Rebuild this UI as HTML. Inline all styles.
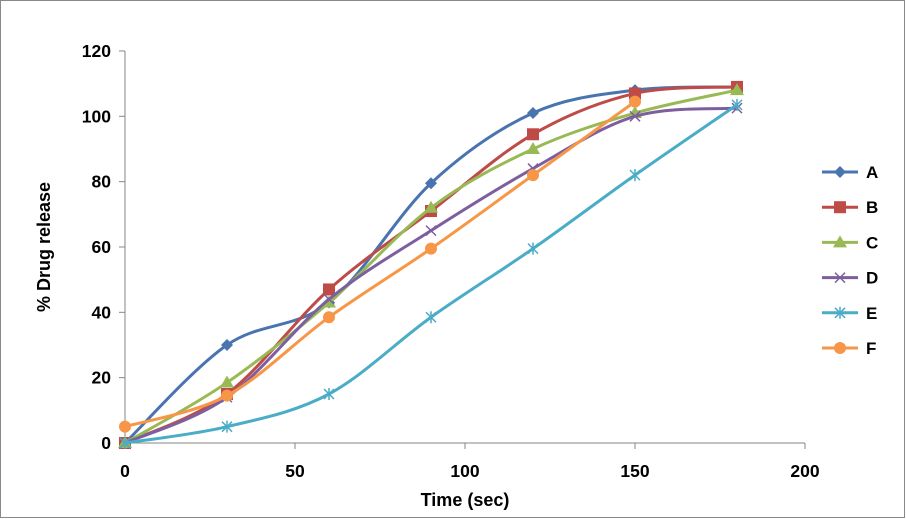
<!DOCTYPE html>
<html><head><meta charset="utf-8"><style>
body{margin:0;background:#fff;}
svg{display:block;font-family:"Liberation Sans",Arial,sans-serif;font-weight:bold;}
</style></head><body>
<svg width="906" height="519">
<rect x="0.5" y="0.5" width="904" height="517" fill="#fff" stroke="#888"/>
<g id="axes"></g><g id="series"></g><g id="legend"></g>
<text x="465" y="506" font-size="18" text-anchor="middle">Time (sec)</text>
<text transform="translate(50,247) rotate(-90)" font-size="18" text-anchor="middle">% Drug release</text>
</svg>
<script>
const xVals=[0,30,60,90,120,150,180];
const seriesA=[0,30,43,79.5,101,108,109];
const seriesB=[0,15,47,71,94.5,107,109];
const seriesC=[0,18.5,43,72,90,101,108];
const seriesD=[0,14,44,65,84,100,102.5];
const seriesE=[0,5,15,38.5,59.5,82,103.5];
const seriesF=[5,14.5,38.5,59.5,82,104.5];
const xTicks=[0,50,100,150,200];
const yTicks=[0,20,40,60,80,100,120];
const names=["A","B","C","D","E","F"];
const colors=["#4a74b0","#be4b48","#98b954","#7d5fa0","#4aacc6","#f79646"];
const markers=["diamond","square","triangle","x","star","circle"];
const data=[seriesA,seriesB,seriesC,seriesD,seriesE,seriesF];
const NS="http://www.w3.org/2000/svg";
const X=v=>125+v*3.4, Y=v=>443-v*3.267;
function mk(t,a,p){const e=document.createElementNS(NS,t);for(const k in a)e.setAttribute(k,a[k]);p.appendChild(e);return e;}
const ax=document.getElementById('axes');
let l=mk('line',{x1:X(0),y1:Y(0),x2:X(200),y2:Y(0),stroke:'#868686'},ax);


l=mk('line',{x1:X(0),y1:Y(0),x2:X(0),y2:Y(120),stroke:'#868686'},ax);


xTicks.forEach(t=>{mk('line',{x1:X(t),y1:443,x2:X(t),y2:449,stroke:'#868686'},ax);
const tx=mk('text',{x:X(t),y:477,'font-size':17.5,'text-anchor':'middle'},ax);tx.textContent=t;

});
yTicks.forEach(t=>{mk('line',{x1:119,y1:Y(t),x2:125,y2:Y(t),stroke:'#868686'},ax);
const tx=mk('text',{x:111,y:Y(t)+6,'font-size':17.5,'text-anchor':'end'},ax);tx.textContent=t;

});
function path(pts){let d=`M${pts[0][0]},${pts[0][1]}`;for(let i=0;i<pts.length-1;i++){const p0=pts[Math.max(0,i-1)],p1=pts[i],p2=pts[i+1],p3=pts[Math.min(pts.length-1,i+2)];const t=6;d+=` C${p1[0]+(p2[0]-p0[0])/t},${p1[1]+(p2[1]-p0[1])/t} ${p2[0]-(p3[0]-p1[0])/t},${p2[1]-(p3[1]-p1[1])/t} ${p2[0]},${p2[1]}`;}return d;}
function marker(g,type,x,y,c){
 if(type=="diamond")mk('polygon',{points:`${x},${y-6} ${x+6},${y} ${x},${y+6} ${x-6},${y}`,fill:c},g);
 else if(type=="square")mk('rect',{x:x-6,y:y-6,width:12,height:12,fill:c},g);
 else if(type=="triangle")mk('polygon',{points:`${x},${y-7} ${x+7},${y+5} ${x-7},${y+5}`,fill:c},g);
 else if(type=="circle")mk('circle',{cx:x,cy:y,r:6,fill:c},g);
 else if(type=="x"){mk('path',{d:`M${x-5},${y-5}L${x+5},${y+5}M${x-5},${y+5}L${x+5},${y-5}`,stroke:c,'stroke-width':1.5},g);}
 else {mk('path',{d:`M${x-5},${y-5}L${x+5},${y+5}M${x-5},${y+5}L${x+5},${y-5}M${x},${y-6}L${x},${y+6}`,stroke:c,'stroke-width':1.5},g);}
}
const sg=document.getElementById('series');
data.forEach((s,i)=>{const g=mk('g',{},sg);


const pts=s.map((v,j)=>[X(xVals[j]),Y(v)]);
mk('path',{d:path(pts),fill:'none',stroke:colors[i],'stroke-width':3},g);
pts.forEach(p=>marker(g,markers[i],p[0],p[1],colors[i]));});
const lg=document.getElementById('legend');
names.forEach((n,i)=>{const y=172+i*35.2;const g=mk('g',{},lg);


mk('line',{x1:822,y1:y,x2:858,y2:y,stroke:colors[i],'stroke-width':3},g);
marker(g,markers[i],840,y,colors[i]);
const t=mk('text',{x:866,y:y+6,'font-size':17},g);t.textContent=n;});
</script>
</body></html>
